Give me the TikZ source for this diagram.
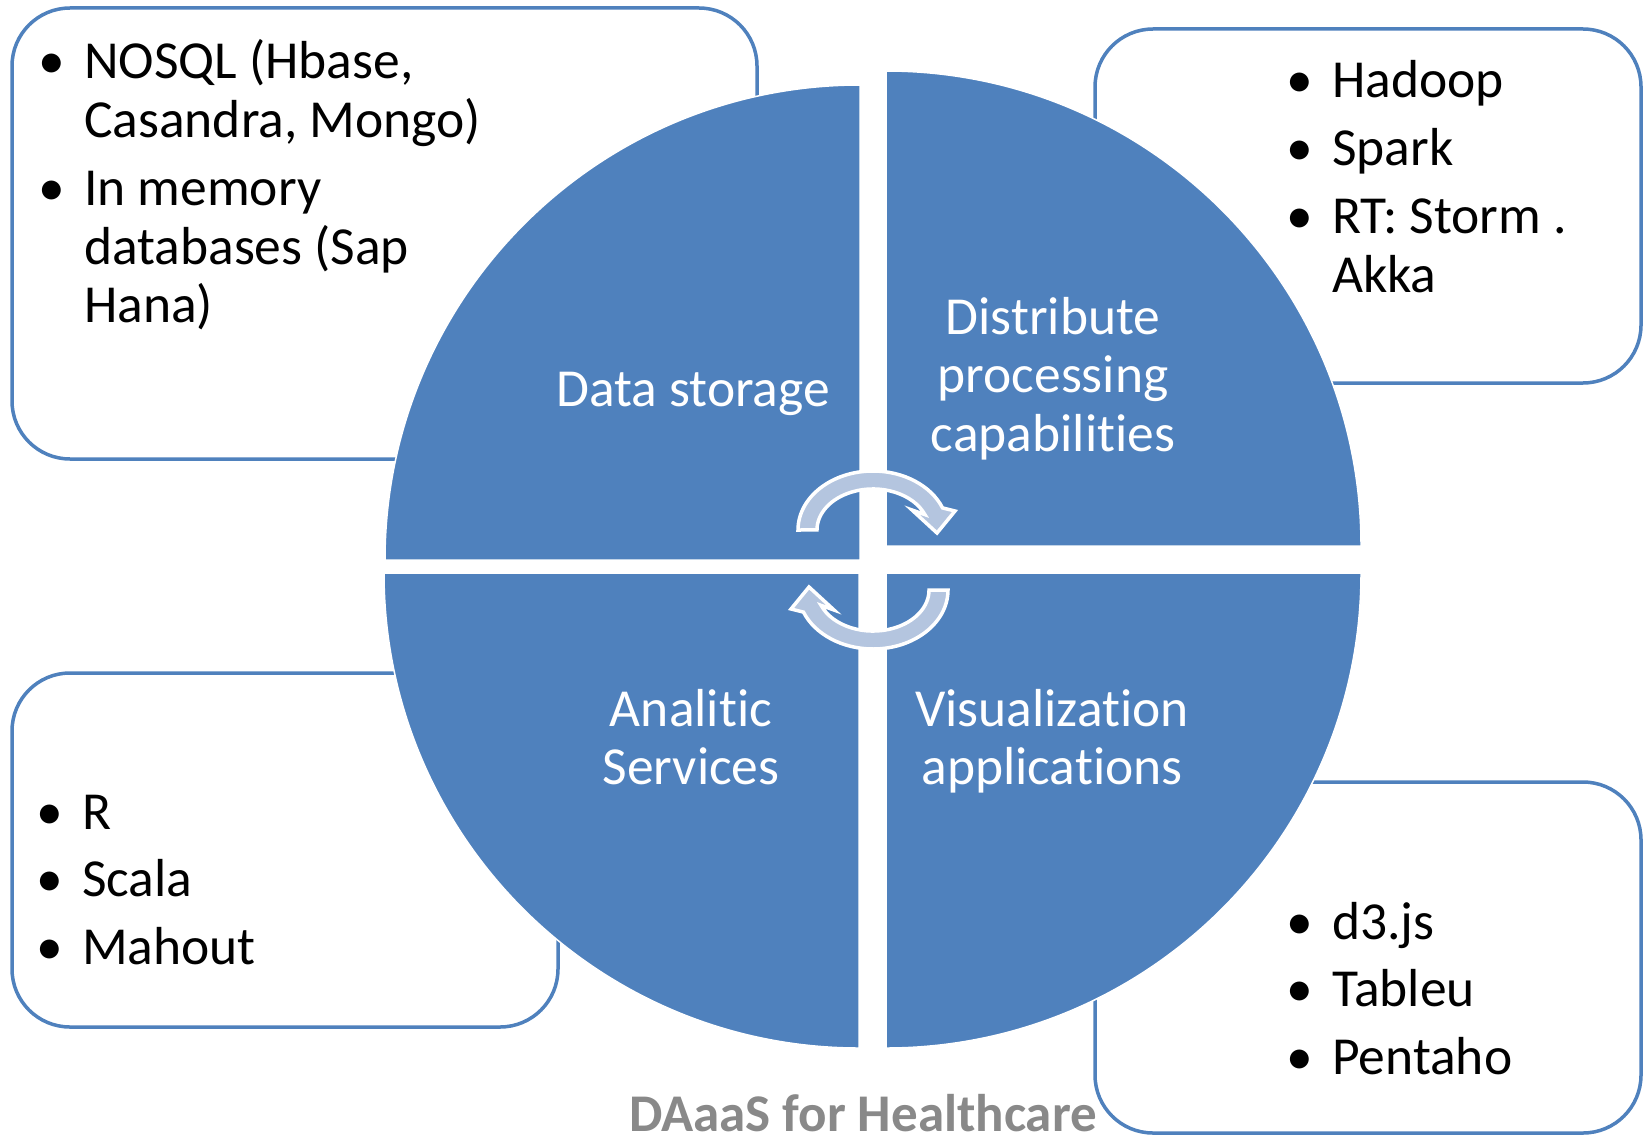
\documentclass[tikz,border=0pt]{standalone}
\usepackage{fontspec}
\setmainfont{Carlito}[Ligatures=NoCommon]
\usepackage{tikz}

\definecolor{quadblue}{RGB}{79,129,189}
\definecolor{arrowblue}{RGB}{180,197,223}
\definecolor{titlegray}{RGB}{137,137,137}
\newcommand{\listfont}{\fontsize{53.5}{58.7}\selectfont}

\begin{document}
\begin{tikzpicture}[x=1pt, y=1pt,
    quad/.style={fill=quadblue, draw=white, line width=1.5pt},
    infobox/.style={draw=quadblue, fill=white, line width=3.5pt, rounded corners=58pt, inner sep=0pt},
    lst/.style={anchor=base west, inner sep=0pt, font=\listfont, text=black},
    qlab/.style={anchor=base, inner sep=0pt, font=\listfont, text=white},
    turnarrow/.style={fill=arrowblue, draw=white, line width=3.5pt}]
        \useasboundingbox (0,0) rectangle (1645,-1137);

        % Title below the circle
        \node[anchor=base, inner sep=0pt, font=\fontsize{53}{60}\selectfont\bfseries, text=titlegray] (title) at (863,-1131) {DAaaS for Healthcare};

        % The four boxes with the lists
        \node[infobox, minimum width=745pt, minimum height=451pt] (storebox) at (384.5,-233.5) {};
        \node[infobox, minimum width=546pt, minimum height=354pt] (procbox) at (1368,-206) {};
        \node[infobox, minimum width=546pt, minimum height=354pt] (anabox) at (285,-850) {};
        \node[infobox, minimum width=546pt, minimum height=351pt] (visbox) at (1368,-957.5) {};

        % Quarters of the circle
        \draw[quad] (860,-560) -- ++(-475,0) arc[start angle=180, end angle=90, radius=475pt] -- cycle;
        \draw[quad] (886,-546) -- ++(0,475) arc[start angle=90, end angle=0, radius=475pt] -- cycle;
        \draw[quad] (859,-573) -- ++(0,-475) arc[start angle=270, end angle=180, radius=475pt] -- cycle;
        \draw[quad] (886,-573) -- ++(475,0) arc[start angle=0, end angle=-90, radius=475pt] -- cycle;

        % Labels of the quarters
        \node[qlab] (storage) at (693,-406) {Data storage};
        \node[qlab] (processing) at (1053,-334) {\begin{tabular}[t]{@{}c@{}}Distribute\\processing\\capabilities\end{tabular}};
        \node[qlab] (analitic) at (691,-726) {\begin{tabular}[t]{@{}c@{}}Analitic\\Services\end{tabular}};
        \node[qlab] (visual) at (1052,-726) {\begin{tabular}[t]{@{}c@{}}Visualization\\applications\end{tabular}};

        % Lists in the boxes
        \node[lst] (storelist) at (38,-79) {\begin{tabular}[t]{@{}p{46pt}@{}l@{}}
            \textbullet & NOSQL (Hbase,\\
                        & Casandra, Mongo)\\[9pt]
            \textbullet & In memory\\
                        & databases (Sap\\
                        & Hana)
        \end{tabular}};
        \node[lst] (proclist) at (1286,-98) {\begin{tabular}[t]{@{}p{46pt}@{}l@{}}
            \textbullet & Hadoop\\[9pt]
            \textbullet & Spark\\[9pt]
            \textbullet & RT: Storm .\\
                        & Akka
        \end{tabular}};
        \node[lst] (analist) at (36,-829) {\begin{tabular}[t]{@{}p{46pt}@{}l@{}}
            \textbullet & R\\[9pt]
            \textbullet & Scala\\[9pt]
            \textbullet & Mahout
        \end{tabular}};
        \node[lst] (vislist) at (1286,-939) {\begin{tabular}[t]{@{}p{46pt}@{}l@{}}
            \textbullet & d3.js\\[9pt]
            \textbullet & Tableu\\[9pt]
            \textbullet & Pentaho
        \end{tabular}};

        % Two turning arrows in the middle
        \foreach \cx/\cy/\rot in {873/530/0, 873/590/180}{
            \filldraw[turnarrow, shift={(\cx,-\cy)}, rotate=\rot]
                (-75,0) arc[start angle=180, end angle=22, x radius=75pt, y radius=59pt]
                -- (82,19) -- (64,-3) -- (39,20) -- (51.9,15.4)
                arc[start angle=22, end angle=180, x radius=56pt, y radius=41pt] -- cycle;
        }
\end{tikzpicture}
\end{document}
